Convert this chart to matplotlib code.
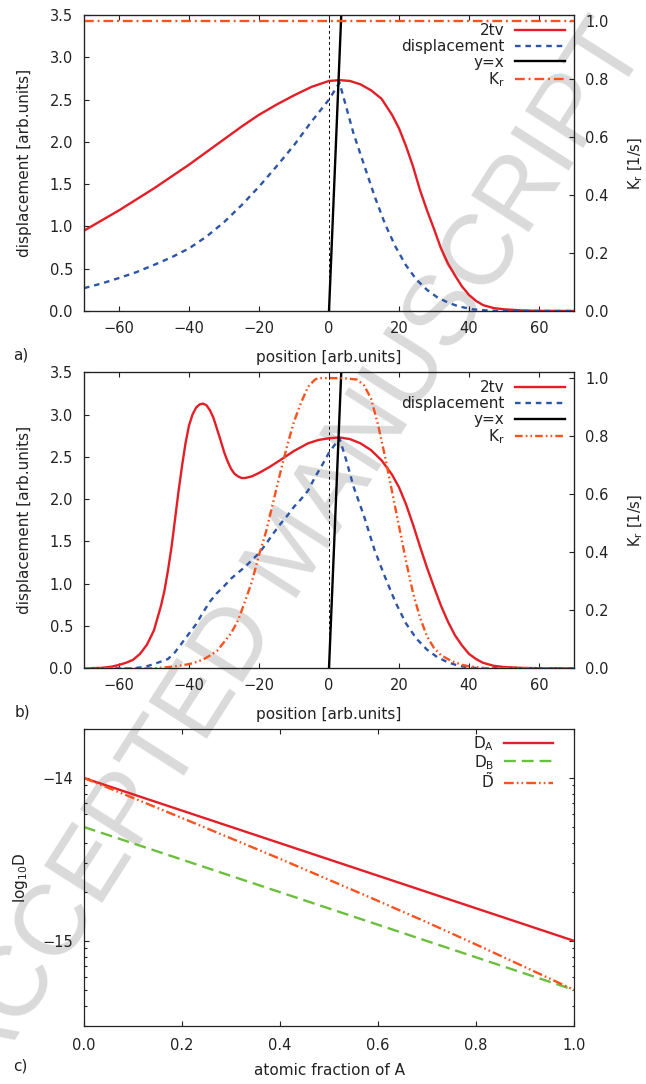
import numpy as np
import matplotlib
matplotlib.use("Agg")
import matplotlib.pyplot as plt
from matplotlib.ticker import FormatStrFormatter, FuncFormatter, LogLocator, NullFormatter

plt.rcParams['font.family'] = ['DejaVu Sans']
plt.rcParams['text.color'] = '#222222'
plt.rcParams['axes.labelcolor'] = '#222222'
plt.rcParams['xtick.color'] = '#222222'
plt.rcParams['ytick.color'] = '#222222'
plt.rcParams['axes.edgecolor'] = '#222222'
plt.rcParams['lines.scale_dashes'] = False

RED = '#e41e26'
BLUE = '#2c55a8'
ORANGE = '#f9521e'
GREEN = '#6abf3c'

# ---- panel a) ----
a_tv_x = [-70, -65, -60, -55, -50, -45, -40, -35, -30, -25, -20, -15, -10, -5, 0, 3, 6, 9, 12, 15,
          18, 20, 22, 24, 26, 28, 30, 32, 34, 36, 38, 40, 42, 44, 47, 50, 55, 60, 70]
a_tv_y = [0.95, 1.07, 1.19, 1.32, 1.45, 1.59, 1.73, 1.88, 2.03, 2.18, 2.32, 2.44, 2.55, 2.65, 2.72,
          2.73, 2.72, 2.68, 2.61, 2.51, 2.32, 2.16, 1.95, 1.71, 1.43, 1.19, 0.97, 0.74, 0.56, 0.42,
          0.29, 0.19, 0.12, 0.07, 0.035, 0.02, 0.007, 0.002, 0.0]
a_d_x = [-70, -65, -60, -55, -50, -45, -40, -35, -30, -25, -20, -15, -10, -5, 0, 3, 5, 7, 10, 13,
         16, 19, 22, 25, 28, 31, 34, 37, 41, 46, 50, 70]
a_d_y = [0.27, 0.325, 0.39, 0.46, 0.545, 0.635, 0.74, 0.88, 1.05, 1.25, 1.47, 1.71, 1.96, 2.24,
         2.50, 2.70, 2.40, 2.10, 1.73, 1.36, 1.03, 0.76, 0.54, 0.37, 0.25, 0.16, 0.10, 0.055, 0.02,
         0.004, 0.0, 0.0]
a_k_x = [-70, 70]
a_k_y = [1.0, 1.0]

# ---- panel b) ----
b_tv_x = [-70, -65, -62, -60, -58, -56, -54, -52, -50, -48, -47, -46, -45, -44, -43, -42, -41, -40,
          -39, -38, -37, -36, -35, -34, -33, -32, -31, -30, -29, -28, -27, -26, -25, -24, -22, -20,
          -17, -14, -10, -6, -3, 0, 3, 6, 9, 12, 15, 18, 20, 22, 24, 26, 28, 30, 32, 34, 36, 38, 40,
          42, 44, 47, 50, 55, 60, 70]
b_tv_y = [0.0, 0.005, 0.02, 0.04, 0.065, 0.10, 0.17, 0.28, 0.45, 0.74, 0.92, 1.16, 1.43, 1.76, 2.09,
          2.39, 2.66, 2.87, 3.00, 3.08, 3.12, 3.13, 3.11, 3.05, 2.96, 2.83, 2.70, 2.56, 2.45, 2.36,
          2.30, 2.27, 2.25, 2.25, 2.27, 2.31, 2.38, 2.46, 2.57, 2.66, 2.70, 2.72, 2.73, 2.71, 2.66,
          2.58, 2.46, 2.29, 2.14, 1.94, 1.70, 1.44, 1.19, 0.96, 0.74, 0.55, 0.39, 0.27, 0.17, 0.11,
          0.065, 0.03, 0.015, 0.005, 0.001, 0.0]
b_d_x = [-70, -56, -54, -52, -50, -48, -46, -44, -42, -40, -38, -36, -34, -32, -30, -28, -26, -24,
         -22, -20, -18, -16, -14, -12, -10, -8, -6, -4, -2, 0, 3, 5, 7, 10, 13, 16, 19, 22, 25, 28,
         31, 34, 37, 40, 43, 70]
b_d_y = [0.0, 0.0, 0.01, 0.025, 0.05, 0.08, 0.11, 0.19, 0.30, 0.41, 0.52, 0.66, 0.79, 0.89, 0.97,
         1.06, 1.13, 1.20, 1.28, 1.36, 1.47, 1.59, 1.70, 1.80, 1.91, 2.00, 2.10, 2.26, 2.40, 2.55,
         2.72, 2.45, 2.15, 1.80, 1.40, 1.08, 0.78, 0.53, 0.35, 0.22, 0.13, 0.07, 0.03, 0.01, 0.0, 0.0]
b_k_x = [-70, -50, -46, -42, -39, -36, -34, -32, -30, -28, -26, -24, -22, -20, -18, -16, -14, -12,
         -10, -8, -6, -4, -3, 0, 4, 8, 10, 12, 14, 16, 18, 20, 22, 24, 26, 28, 30, 32, 35, 38, 40, 45, 70]
b_k_y = [0.0, 0.0, 0.004, 0.01, 0.017, 0.03, 0.044, 0.06, 0.09, 0.12, 0.165, 0.23, 0.30, 0.39, 0.47,
         0.57, 0.67, 0.765, 0.85, 0.915, 0.97, 0.995, 1.0, 1.0, 1.0, 0.995, 0.975, 0.93, 0.84, 0.73,
         0.61, 0.49, 0.37, 0.26, 0.175, 0.11, 0.07, 0.045, 0.025, 0.012, 0.007, 0.0, 0.0]

# y=x line (both panels)
yx_x = [0, 3.6]
yx_y = [0, 3.6]

# ---- panel c) ----
c_x = [0.0, 1.0]
c_DA = [1e-14, 1e-15]
c_DB = [5e-15, 5e-16]
c_xt = [0.0, 0.1, 0.2, 0.3, 0.4, 0.5, 0.6, 0.7, 0.8, 0.9, 1.0]
c_Dt = [1.0e-14, 7.55e-15, 5.68e-15, 4.26e-15, 3.19e-15, 2.37e-15, 1.76e-15, 1.30e-15, 9.5e-16,
        6.9e-16, 5.0e-16]

fig = plt.figure(figsize=(6.46, 10.84), dpi=100)

# watermark behind everything
fig.text(295 / 646, 1 - 553 / 1084, 'ACCEPTED MANUSCRIPT', fontsize=72, family='Liberation Sans',
         color='#dadada', rotation=57.5, ha='center', va='center', zorder=-1)

LW = 1.7
TICK = dict(direction='in', length=3.6, width=0.8, labelsize=10.5)


def disp_panel(rect, tv_x, tv_y, d_x, d_y, k_x, k_y, k_dash):
    ax = fig.add_axes(rect)
    ax.set_facecolor('none')
    ax2 = ax.twinx()
    ax2.set_facecolor('none')
    ax.axvline(0, color='black', lw=0.7, dashes=(2, 2), zorder=1)
    ax.axhline(0, color='#888888', lw=0.7, dashes=(2, 2), zorder=1)
    l1, = ax.plot(tv_x, tv_y, color=RED, lw=LW, label='2tv')
    l2, = ax.plot(d_x, d_y, color=BLUE, lw=LW, dashes=(4, 3.5), label='displacement')
    l3, = ax.plot(yx_x, yx_y, color='black', lw=LW, label='y=x')
    l4, = ax2.plot(k_x, k_y, color=ORANGE, lw=LW, dashes=k_dash, label=r'K$_\mathrm{r}$')
    ax.set_xlim(-70, 70)
    ax.set_ylim(0, 3.5)
    ax2.set_ylim(0, 1.02)
    ax.set_xticks(np.arange(-60, 61, 20))
    ax.set_yticks(np.arange(0, 3.51, 0.5))
    ax.yaxis.set_major_formatter(FormatStrFormatter('%.1f'))
    ax2.set_yticks(np.arange(0, 1.01, 0.2))
    ax2.yaxis.set_major_formatter(FormatStrFormatter('%.1f'))
    ax.tick_params(top=True, right=False, **TICK)
    ax.tick_params(axis='x', pad=7)
    ax.tick_params(axis='y', pad=8)
    ax2.tick_params(pad=8, **TICK)
    ax.set_xlabel('position [arb.units]', fontsize=11)
    ax.xaxis.set_label_coords(0.5, -0.132)
    ax.set_ylabel('displacement [arb.units]', fontsize=11)
    ax.yaxis.set_label_coords(-0.106, 0.5)
    ax2.set_ylabel(r'K$_\mathrm{r}$ [1/s]', fontsize=10.5)
    ax2.yaxis.set_label_coords(1.108, 0.5)
    ax2.legend(handles=[l1, l2, l3, l4], loc='upper right', bbox_to_anchor=(0.988, 0.983),
               markerfirst=False, frameon=False, fontsize=11, handlelength=3.3,
               handletextpad=0.65, labelspacing=0.05, borderpad=0.2, borderaxespad=0)
    for sp in ax.spines.values():
        sp.set_linewidth(0.9)
    return ax


W = 490 / 646
H = 296 / 1084
disp_panel([84 / 646, 1 - 311 / 1084, W, H], a_tv_x, a_tv_y, a_d_x, a_d_y, a_k_x, a_k_y,
           (7, 2.8, 1.4, 2.8))
disp_panel([84 / 646, 1 - 668.3 / 1084, W, H], b_tv_x, b_tv_y, b_d_x, b_d_y, b_k_x, b_k_y,
           (5.5, 2.2, 1.2, 2.2, 1.2, 2.2))

# ---- panel c ----
axc = fig.add_axes([84 / 646, 1 - 1026 / 1084, W, 297 / 1084])
axc.set_facecolor('none')
axc.set_yscale('log')
m1, = axc.plot(c_x, c_DA, color=RED, lw=LW, label=r'D$_\mathrm{A}$')
m2, = axc.plot(c_x, c_DB, color=GREEN, lw=LW, dashes=(8.5, 4.3), label=r'D$_\mathrm{B}$')
m3, = axc.plot(c_xt, c_Dt, color=ORANGE, lw=LW, dashes=(7, 2.2, 1.2, 2.2, 1.2, 2.2),
               label=r'$\tilde{\mathrm{D}}$')
axc.set_xlim(0, 1)
axc.set_ylim(3e-16, 2e-14)
axc.set_xticks(np.arange(0, 1.01, 0.2))
axc.xaxis.set_major_formatter(FormatStrFormatter('%.1f'))
axc.yaxis.set_major_locator(LogLocator(base=10))
axc.yaxis.set_major_formatter(FuncFormatter(lambda v, p: f"{np.log10(v):.0f}".replace('-', '\u2212')))
axc.yaxis.set_minor_locator(LogLocator(base=10, subs=np.arange(2, 10) * 1.0, numticks=20))
axc.yaxis.set_minor_formatter(NullFormatter())
axc.tick_params(which='both', top=True, right=True, **TICK)
axc.tick_params(which='minor', length=1.8)
axc.tick_params(axis='x', pad=9)
axc.tick_params(axis='y', pad=8)
axc.set_xlabel('atomic fraction of A', fontsize=11)
axc.xaxis.set_label_coords(0.5, -0.126)
axc.set_ylabel(r'log$_{10}$D', fontsize=11)
axc.yaxis.set_label_coords(-0.11, 0.5)
axc.legend(handles=[m1, m2, m3], loc='upper right', bbox_to_anchor=(0.963, 0.993),
           markerfirst=False, frameon=False, fontsize=11, handlelength=3.2,
           handletextpad=0.65, labelspacing=0.0, borderpad=0.2, borderaxespad=0)
for sp in axc.spines.values():
    sp.set_linewidth(0.9)

fig.text(13 / 646, 1 - 355 / 1084, 'a)', fontsize=11, va='center')
fig.text(15 / 646, 1 - 712 / 1084, 'b)', fontsize=11, va='center')
fig.text(13 / 646, 1 - 1066 / 1084, 'c)', fontsize=11, va='center')

fig.savefig('out.png', dpi=100)
